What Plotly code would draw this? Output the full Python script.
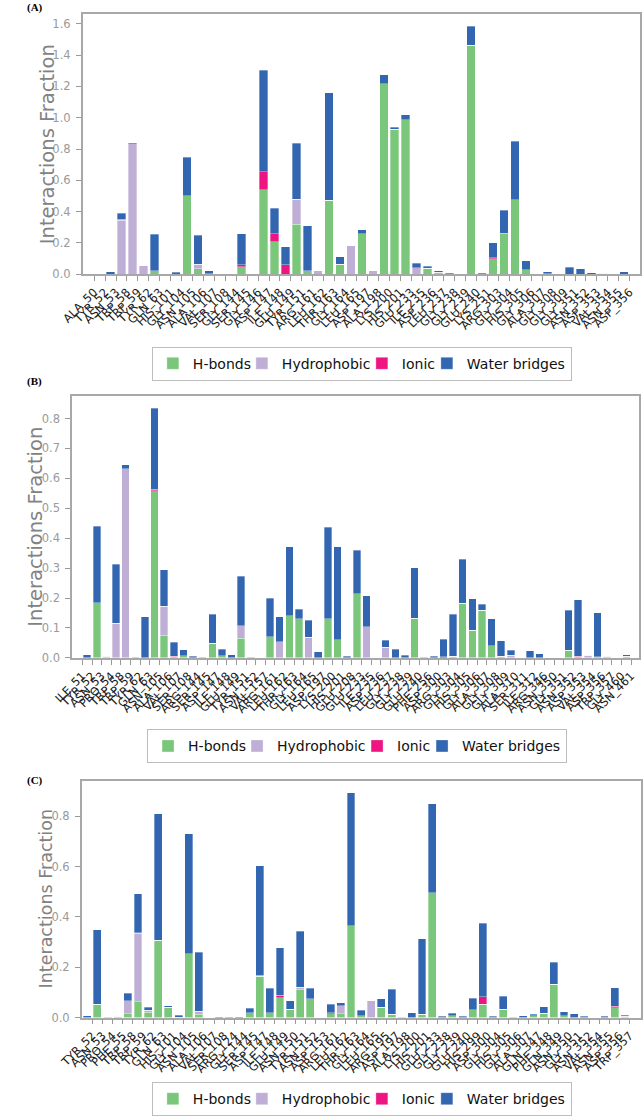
import numpy as np
import plotly.graph_objects as go

SERIES = ["H-bonds", "Hydrophobic", "Ionic", "Water bridges"]
COLORS = ["#7AC77B", "#BFAFD6", "#EE1582", "#3366B0"]
# legend entry widths (px) used only to tighten the legend spacing
LEGEND_WIDTHS = [44, 75, 20, None]

# ---------------- Panel A ----------------
a_labels = ["ALA_50", "TYR_52", "ASN_53", "TRP_58", "TRP_59", "TYR_62", "GLN_63", "HIS_101", "GLY_104", "ASN_105",
            "ALA_106", "VAL_107", "SER_108", "GLY_144", "SER_145", "GLY_146", "ASP_147", "ILE_148", "GLU_149", "TYR_151",
            "ARG_161", "LEU_162", "THR_163", "GLY_164", "LEU_165", "ASP_197", "ALA_198", "LYS_200", "HIS_201", "GLU_233",
            "ILE_235", "ASP_236", "LEU_237", "GLY_238", "GLY_239", "GLU_240", "LYS_251", "ARG_303", "GLY_304", "HIS_305",
            "GLY_306", "ALA_307", "GLY_308", "GLY_309", "GLY_351", "ASN_352", "ASP_353", "VAL_354", "ASN_355", "ASP_356"]
a_hbonds = [0, 0, 0, 0, 0, 0, 0.022, 0, 0, 0.50,
            0.036, 0.003, 0, 0, 0.048, 0, 0.54, 0.207, 0, 0.32,
            0.022, 0, 0.474, 0.065, 0, 0.258, 0, 1.217, 0.925, 0.986,
            0, 0.04, 0, 0, 0, 1.462, 0, 0.10, 0.258, 0.476,
            0.03, 0, 0.002, 0, 0, 0, 0, 0, 0, 0]
a_hydrophobic = [0, 0, 0, 0.345, 0.833, 0.055, 0, 0, 0, 0,
                 0.027, 0, 0, 0, 0, 0, 0, 0, 0, 0.16,
                 0, 0.022, 0, 0, 0.182, 0, 0.023, 0, 0, 0,
                 0.042, 0, 0.012, 0, 0, 0, 0, 0, 0, 0,
                 0, 0.004, 0, 0, 0, 0, 0, 0.008, 0, 0]
a_ionic = [0, 0, 0, 0.005, 0, 0, 0, 0, 0, 0,
           0, 0, 0, 0, 0.014, 0, 0.114, 0.053, 0.06, 0,
           0, 0, 0, 0, 0, 0, 0, 0, 0, 0,
           0, 0, 0, 0, 0, 0, 0, 0.004, 0.004, 0,
           0, 0, 0, 0, 0, 0, 0, 0, 0, 0]
a_water = [0, 0, 0.015, 0.04, 0.007, 0, 0.234, 0.004, 0.012, 0.247,
           0.187, 0.02, 0.004, 0, 0.196, 0, 0.65, 0.163, 0.115, 0.356,
           0.287, 0, 0.684, 0.048, 0, 0.026, 0, 0.057, 0.013, 0.032,
           0.03, 0.01, 0.01, 0.008, 0, 0.123, 0.008, 0.097, 0.148, 0.375,
           0.055, 0, 0.013, 0, 0.045, 0.035, 0.01, 0, 0, 0.017]
a_yticks = [0.0, 0.2, 0.4, 0.6, 0.8, 1.0, 1.2, 1.4, 1.6]

# ---------------- Panel B ----------------
b_labels = ["ILE_51", "TYR_52", "ASN_53", "PRO_54", "TRP_58", "TRP_59", "TYR_62", "GLN_63", "ASN_105", "ALA_106",
            "VAL_107", "SER_108", "ARG_144", "SER_145", "ASP_147", "ILE_148", "GLU_149", "TYR_151", "ASN_152", "VAL_157",
            "ARG_161", "LEU_162", "THR_163", "GLY_164", "LEU_165", "ASP_197", "LYS_200", "HIS_201", "GLU_208", "GLU_233",
            "ILE_235", "ASP_236", "LEU_237", "GLY_238", "GLY_239", "GLU_240", "PHE_256", "ASP_300", "ARG_303", "GLY_304",
            "HIS_305", "GLY_306", "ALA_307", "GLY_308", "GLY_309", "ALA_310", "SER_311", "ILE_312", "ARG_346", "ASN_350",
            "GLY_351", "ASN_352", "ASP_353", "VAL_354", "ASP_356", "TRP_357", "GLY_460", "ASN_461"]
b_hbonds = [0, 0, 0.185, 0, 0, 0, 0, 0, 0.559, 0.075,
            0.003, 0.007, 0, 0, 0.049, 0.007, 0, 0.065, 0, 0,
            0.071, 0, 0.14, 0.131, 0, 0, 0.131, 0.061, 0, 0.215,
            0, 0, 0, 0, 0, 0.133, 0, 0, 0, 0.006,
            0.183, 0.092, 0.16, 0.041, 0.006, 0, 0, 0, 0, 0,
            0, 0.025, 0.003, 0, 0.003, 0, 0, 0.005]
b_hydrophobic = [0, 0, 0, 0.005, 0.116, 0.633, 0.003, 0, 0, 0.097,
                 0, 0, 0, 0.003, 0, 0, 0, 0.042, 0.003, 0,
                 0, 0.054, 0, 0, 0.069, 0, 0, 0, 0, 0,
                 0.104, 0, 0.036, 0, 0, 0, 0.003, 0, 0, 0,
                 0, 0, 0, 0, 0, 0.008, 0, 0, 0, 0,
                 0, 0, 0, 0.008, 0, 0.005, 0, 0]
b_ionic = [0, 0, 0, 0, 0, 0, 0, 0, 0.005, 0,
           0.003, 0, 0, 0, 0, 0, 0, 0, 0, 0,
           0, 0, 0, 0, 0, 0, 0, 0, 0, 0,
           0, 0, 0, 0, 0, 0, 0, 0, 0.003, 0,
           0, 0, 0, 0, 0, 0, 0, 0, 0, 0,
           0, 0, 0.003, 0, 0, 0, 0, 0]
b_water = [0, 0.01, 0.255, 0, 0.197, 0.013, 0, 0.138, 0.27, 0.122,
           0.047, 0.02, 0.005, 0, 0.097, 0.021, 0.011, 0.166, 0, 0,
           0.129, 0.083, 0.232, 0.032, 0.057, 0.021, 0.306, 0.311, 0.005, 0.145,
           0.104, 0, 0.023, 0.028, 0.009, 0.168, 0, 0.006, 0.06, 0.139,
           0.146, 0.105, 0.02, 0.09, 0.052, 0.017, 0, 0.024, 0.013, 0,
           0, 0.135, 0.189, 0, 0.147, 0, 0, 0.006]
b_yticks = [0.0, 0.1, 0.2, 0.3, 0.4, 0.5, 0.6, 0.7, 0.8]

# ---------------- Panel C ----------------
c_labels = ["TYR_52", "ASN_53", "PRO_54", "PHE_55", "TRP_58", "TRP_59", "TYR_62", "GLN_63", "HIS_101", "GLY_104",
            "ASN_105", "ALA_106", "VAL_107", "SER_108", "ARG_124", "GLY_144", "SER_145", "ASP_147", "ILE_148", "GLU_149",
            "ASN_150", "TYR_151", "ASN_152", "ASP_153", "ARG_161", "LEU_162", "THR_163", "GLY_164", "LEU_165", "ARG_195",
            "ASP_197", "ALA_198", "LYS_200", "HIS_201", "GLU_233", "GLY_238", "GLY_239", "GLU_240", "HIS_299", "ASP_300",
            "GLY_304", "HIS_305", "GLY_306", "ALA_307", "GLN_347", "PHE_348", "GLN_349", "ASN_350", "GLY_351", "ASN_352",
            "VAL_354", "ASN_355", "ASP_356", "TRP_357"]
c_hbonds = [0, 0.053, 0, 0.005, 0.016, 0.063, 0.021, 0.307, 0.041, 0.002,
            0.254, 0.013, 0, 0, 0, 0, 0.02, 0.164, 0.02, 0.079,
            0.033, 0.113, 0.074, 0, 0.016, 0.016, 0.364, 0.007, 0.002, 0.042,
            0.013, 0, 0, 0.013, 0.496, 0, 0.008, 0, 0.032, 0.053,
            0, 0.033, 0.004, 0, 0.007, 0.017, 0.133, 0.008, 0, 0,
            0, 0, 0.04, 0]
c_hydrophobic = [0, 0, 0.004, 0, 0.051, 0.271, 0.009, 0, 0, 0,
                 0, 0.012, 0, 0, 0, 0, 0, 0, 0, 0,
                 0, 0.007, 0, 0, 0, 0.031, 0, 0, 0.065, 0,
                 0, 0.004, 0, 0, 0, 0, 0, 0, 0, 0,
                 0, 0, 0, 0, 0, 0, 0, 0, 0, 0,
                 0, 0, 0, 0.006]
c_ionic = [0, 0, 0, 0, 0, 0.003, 0, 0, 0, 0,
           0, 0, 0, 0, 0, 0, 0, 0.004, 0, 0.01,
           0, 0, 0, 0, 0.003, 0, 0, 0, 0, 0,
           0, 0, 0, 0, 0, 0, 0, 0, 0, 0.029,
           0, 0, 0, 0, 0, 0, 0, 0, 0, 0,
           0, 0, 0.005, 0]
c_water = [0.007, 0.296, 0, 0, 0.029, 0.155, 0.011, 0.502, 0.006, 0.008,
           0.476, 0.235, 0, 0.004, 0.002, 0.004, 0.018, 0.435, 0.097, 0.189,
           0.034, 0.222, 0.043, 0, 0.034, 0.012, 0.529, 0.023, 0, 0.032,
           0.099, 0, 0.02, 0.301, 0.354, 0.005, 0.009, 0.005, 0.044, 0.292,
           0.005, 0.051, 0, 0.007, 0.006, 0.026, 0.087, 0.016, 0.016, 0.005,
           0, 0.005, 0.073, 0.003]
c_yticks = [0.0, 0.2, 0.4, 0.6, 0.8]

W, H = 643, 1119
FONT = "DejaVu Sans"

panels = [
    dict(name="A", labels=a_labels, data=[a_hbonds, a_hydrophobic, a_ionic, a_water], yticks=a_yticks,
         px=(62, 641), py=(14, 276), ymax=1.663, xpad=(0.55, 0.45), legend="legend",
         leg=(352, 366), ytitle_x=25, ytitle_size=19.5, tag_y=7.5),
    dict(name="B", labels=b_labels, data=[b_hbonds, b_hydrophobic, b_ionic, b_water], yticks=b_yticks,
         px=(51, 640), py=(398, 662), ymax=0.877, xpad=(0.57, 0.33), legend="legend2",
         leg=(347, 751), ytitle_x=13.5, ytitle_size=19.5, tag_y=383.5),
    dict(name="C", labels=c_labels, data=[c_hbonds, c_hydrophobic, c_ionic, c_water], yticks=c_yticks,
         px=(61, 642), py=(786, 1024), ymax=0.939, xpad=(0.55, 0.6), legend="legend3",
         leg=(352, 1106), ytitle_x=24, ytitle_size=17.5, tag_y=785),
]

fig = go.Figure()
layout = dict(width=W, height=H, margin=dict(l=0, r=0, t=0, b=0), autosize=False,
              plot_bgcolor="white", paper_bgcolor="white", barmode="stack",
              font=dict(family=FONT, color="#222222"), annotations=[])

for i, p in enumerate(panels):
    sfx = "" if i == 0 else str(i + 1)
    n = len(p["labels"])
    pos = np.arange(n)
    for s, (sname, col) in enumerate(zip(SERIES, COLORS)):
        kw = {}
        if LEGEND_WIDTHS[s] is not None:
            kw["legendwidth"] = LEGEND_WIDTHS[s]
        fig.add_trace(go.Bar(
            x=pos, y=p["data"][s], name=sname, width=0.78,
            marker=dict(color=col, line=dict(color="rgba(255,255,255,0.55)", width=0.6)),
            xaxis="x" + sfx, yaxis="y" + sfx, legend=p["legend"], showlegend=True, **kw,
        ))
    x0, x1 = p["px"]
    y0, y1 = p["py"]
    layout["xaxis" + sfx] = dict(
        domain=[x0 / W, x1 / W], anchor="y" + sfx,
        range=[-p["xpad"][0], n + p["xpad"][1]],
        tickmode="array", tickvals=pos + 0.5, ticktext=p["labels"], tickangle=-45,
        tickfont=dict(family=FONT, size=11.5, color="#1a1a1a"),
        ticks="outside", ticklen=5, tickcolor="#9a9a9a", tickwidth=1,
        showline=True, mirror=True, linecolor="#a8a8a8", linewidth=1.5,
        showgrid=False, zeroline=False, fixedrange=True,
    )
    layout["yaxis" + sfx] = dict(
        domain=[1 - y1 / H, 1 - y0 / H], anchor="x" + sfx,
        range=[0, p["ymax"]], tickmode="array", tickvals=p["yticks"],
        ticktext=[f"{v:.1f}" for v in p["yticks"]],
        tickfont=dict(family=FONT, size=11.5, color="#9a9a9a"),
        ticks="outside", ticklen=5, tickcolor="#9a9a9a", tickwidth=1, ticklabelstandoff=3,
        showline=True, mirror=True, linecolor="#a8a8a8", linewidth=1.5,
        showgrid=False, zeroline=False, fixedrange=True,
    )
    layout[p["legend"]] = dict(
        orientation="h", x=p["leg"][0] / W, y=1 - p["leg"][1] / H, xanchor="center", yanchor="middle",
        bgcolor="white", bordercolor="#bdbdbd", borderwidth=1, traceorder="normal",
        font=dict(family=FONT, size=14, color="#111111"), itemwidth=30,
    )
    layout["annotations"].append(dict(
        text="Interactions Fraction", textangle=-90, showarrow=False,
        xref="paper", yref="paper", x=p["ytitle_x"] / W, y=1 - (y0 + y1) / 2 / H,
        xanchor="center", yanchor="middle",
        font=dict(family=FONT, size=p["ytitle_size"], color="#828282"),
    ))
    layout["annotations"].append(dict(
        text="<b>(" + p["name"] + ")</b>", showarrow=False, xref="paper", yref="paper",
        x=2 / W, y=1 - p["tag_y"] / H, xanchor="left", yanchor="middle",
        font=dict(family="Liberation Serif", size=11, color="#000000"),
    ))

fig.update_layout(**layout)
fig.write_html("out.html", config={"displayModeBar": False})
